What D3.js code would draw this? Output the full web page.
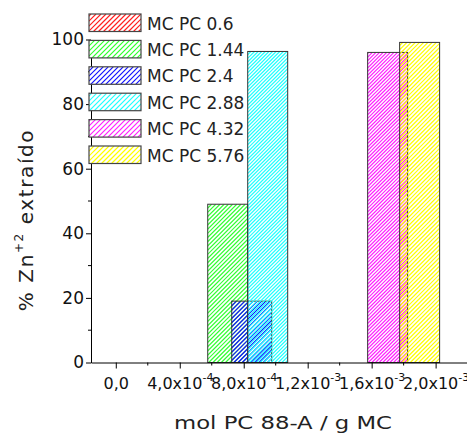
<!DOCTYPE html>
<html>
<head>
<meta charset="utf-8">
<script src="https://cdn.jsdelivr.net/npm/d3@7.9.0/dist/d3.min.js"></script>
<style>
  body { margin: 0; background: #fff; }
  svg { display: block; font-family: "DejaVu Sans", sans-serif; }
</style>
</head>
<body>
<svg id="chart" width="467" height="437"></svg>
<script>
// data
const seriesNames = ['MC PC 0.6', 'MC PC 1.44', 'MC PC 2.4', 'MC PC 2.88', 'MC PC 4.32', 'MC PC 5.76'];
const seriesColors = ['#ff2020', '#33ff33', '#1010ff', '#22ffff', '#ff22ff', '#ffff00'];
const xPositions = [null, 7.0e-4, 8.5e-4, 9.5e-4, 1.7e-3, 1.9e-3];
const extracted = [null, 49, 19, 96.3, 96, 99.1];
const barWidth = 2.5e-4;
const xTickValues = [0, 4e-4, 8e-4, 1.2e-3, 1.6e-3, 2.0e-3];
const xTickMantissa = ['0,0', '4,0x10', '8,0x10', '1,2x10', '1,6x10', '2,0x10'];
const xTickExponent = ['', '-4', '-4', '-3', '-3', '-3'];
const xMinorTicks = [2e-4, 6e-4, 1.0e-3, 1.4e-3, 1.8e-3];
const yTickValues = [0, 20, 40, 60, 80, 100];
const yMinorTicks = [10, 30, 50, 70, 90];

const svg = d3.select('#chart');
const defs = svg.append('defs');

const x = d3.scaleLinear().domain([-1.55e-4, 2.2e-3]).range([91, 467.6]);
const y = d3.scaleLinear().domain([0, 100]).range([362.5, 39.5]);

// "/" hatch lines clipped to a box
let clipCount = 0;
function hatchBox(g, x0, y0, w, h, color, gap) {
  const id = 'clip' + (clipCount++);
  defs.append('clipPath').attr('id', id)
    .append('rect').attr('x', x0).attr('y', y0).attr('width', w).attr('height', h);
  const lines = [];
  const start = Math.floor((x0 + y0) / gap) * gap;
  for (let s = start; s <= x0 + w + y0 + h + gap; s += gap) {
    // x + y = s
    lines.push(`M${s - (y0 + h)},${y0 + h}L${s - y0},${y0}`);
  }
  g.append('path')
    .attr('clip-path', `url(#${id})`)
    .attr('d', lines.join(''))
    .attr('stroke', color)
    .attr('stroke-width', 1.2)
    .attr('fill', 'none');
}

// bars
const bars = seriesNames.map((name, i) => ({ name, i, x: xPositions[i], v: extracted[i] }))
  .filter(d => d.v != null);

const barLayer = svg.append('g');
bars.forEach(d => {
  const x0 = x(d.x - barWidth / 2);
  const w = x(d.x + barWidth / 2) - x0;
  const y0 = y(d.v);
  const h = y(0) - y0;
  const g = barLayer.append('g');
  hatchBox(g, x0, y0, w, h, seriesColors[d.i], d.i === 3 || d.i === 4 ? 3.6 : 4.2);
  g.append('rect')
    .attr('x', x0).attr('y', y0).attr('width', w).attr('height', h)
    .attr('fill', 'none')
    .attr('stroke', '#333')
    .attr('stroke-width', 1);
});

// y axis
const yAxis = svg.append('g')
  .attr('transform', 'translate(91,0)')
  .call(d3.axisLeft(y).tickValues(yTickValues).tickSize(5).tickSizeOuter(0));
yAxis.selectAll('text')
  .attr('x', -7)
  .attr('font-size', 17)
  .attr('font-family', '"DejaVu Sans", sans-serif')
  .attr('fill', '#111');
yAxis.append('g').selectAll('line')
  .data(yMinorTicks)
  .join('line')
  .attr('x1', -3).attr('x2', 0)
  .attr('y1', d => y(d)).attr('y2', d => y(d))
  .attr('stroke', '#000');

// x axis
const xAxis = svg.append('g')
  .attr('transform', 'translate(0,362.5)')
  .call(d3.axisBottom(x).tickValues(xTickValues).tickSize(6).tickSizeOuter(0).tickFormat(() => ''));
xAxis.selectAll('.tick text').each(function (d) {
  const k = xTickValues.indexOf(d);
  const t = d3.select(this)
    .attr('y', 26).attr('dy', null)
    .attr('font-size', 16)
    .attr('font-family', '"DejaVu Sans", sans-serif')
    .attr('fill', '#111');
  t.append('tspan').text(xTickMantissa[k]);
  if (xTickExponent[k]) {
    t.append('tspan').attr('font-size', 11).attr('dy', -8).text(xTickExponent[k]);
  }
});
xAxis.append('g').selectAll('line')
  .data(xMinorTicks)
  .join('line')
  .attr('x1', d => x(d)).attr('x2', d => x(d))
  .attr('y1', 0).attr('y2', 3)
  .attr('stroke', '#000');

// axis titles
svg.append('text')
  .attr('x', 283).attr('y', 429)
  .attr('text-anchor', 'middle')
  .attr('font-size', 17)
  .attr('textLength', 218)
  .attr('lengthAdjust', 'spacingAndGlyphs')
  .attr('fill', '#222')
  .text('mol PC 88-A / g MC');

const yTitle = svg.append('text')
  .attr('transform', 'translate(33,220) rotate(-90)')
  .attr('text-anchor', 'middle')
  .attr('font-size', 20)
  .attr('letter-spacing', 1.6)
  .attr('fill', '#222');
yTitle.append('tspan').text('% Zn');
yTitle.append('tspan').attr('font-size', 12).attr('dy', -10).text('+2');
yTitle.append('tspan').attr('dy', 10).text(' extraído');

// legend
const legendLayer = svg.append('g');
seriesNames.forEach((name, i) => {
  const g = legendLayer.append('g');
  const lx = 89, ly = 14 + i * 26.4;
  g.append('rect')
    .attr('x', lx).attr('y', ly).attr('width', 52).attr('height', 17.5)
    .attr('fill', '#fff');
  hatchBox(g, lx, ly, 52, 17.5, seriesColors[i], 5);
  g.append('rect')
    .attr('x', lx).attr('y', ly).attr('width', 52).attr('height', 17.5)
    .attr('fill', 'none')
    .attr('stroke', '#444')
    .attr('stroke-width', 1.2);
  g.append('text')
    .attr('x', lx + 58).attr('y', ly + 15.5)
    .attr('font-size', 17)
    .attr('fill', '#222')
    .text(name);
});
</script>
</body>
</html>
